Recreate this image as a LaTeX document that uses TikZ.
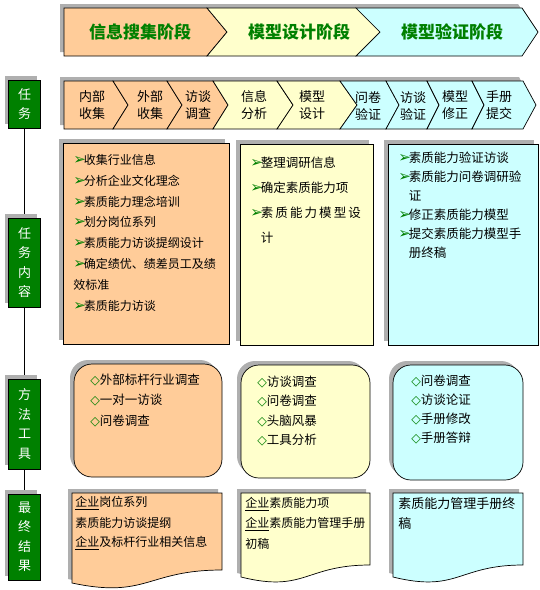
\documentclass[tikz,border=0pt]{standalone}
\usepackage{fontspec}
\setmainfont{Noto Sans CJK SC}
\newfontfamily\symfont{DejaVu Sans}
\usepackage{tikz}
\usetikzlibrary{shadows, backgrounds}

\definecolor{stageOrange}{RGB}{255,204,153}
\definecolor{stageYellow}{RGB}{255,255,204}
\definecolor{stageCyan}{RGB}{204,255,255}
\definecolor{tagGreen}{RGB}{0,128,0}
\definecolor{shadowGray}{RGB}{175,175,175}

\newcommand{\arr}{\makebox[10.5pt][l]{\color{tagGreen}\symfont\fontsize{15}{14}\selectfont ➢}}
\newcommand{\dia}{{\color{tagGreen}\symfont\bfseries ◇}}

\begin{document}
\begin{tikzpicture}[x=1pt, y=-1pt, line width=0.7pt,
  font=\fontsize{12}{14}\selectfont,
  shadowed/.style={general shadow={fill=shadowGray, shadow xshift=-4pt, shadow yshift=4pt}},
  tag/.style={draw, fill=tagGreen, text=white, shadowed, minimum width=32pt,
    align=center, inner sep=0pt, font=\fontsize{13}{19.5}\selectfont},
  panel/.style={draw, shadowed, inner sep=0pt},
  toolbox/.style={panel, rounded corners=18pt},
  stage/.style={font=\fontsize{17}{20}\selectfont\bfseries, text=tagGreen},
  stepbox/.style={draw, line join=miter},
  steptext/.style={align=center, font=\fontsize{13}{17}\selectfont},
  item/.style={anchor=west, inner sep=0pt},
]
\useasboundingbox (0,0) rectangle (540,590);

% stage band
\fill[shadowGray] (60,4) -- (518,4) -- (534,28) -- (518,52) -- (60,52) -- cycle;
\foreach \a/\b/\c/\d/\col in {64/64/207/227/stageOrange, 207/227/356/380/stageYellow,
                               356/380/522/538/stageCyan}
  \filldraw[fill=\col, stepbox] (\a,8) -- (\c,8) -- (\d,32) -- (\c,56) -- (\a,56) -- (\b,32) -- cycle;
\node[stage] (s1) at (140,32) {信息搜集阶段};
\node[stage] (s2) at (299,32) {模型设计阶段};
\node[stage] (s3) at (452,32) {模型验证阶段};

% step band
\fill[shadowGray] (60,77) -- (519,77) -- (532,101) -- (519,125) -- (60,125) -- cycle;
\foreach \a/\b/\c/\d/\col/\x/\t [count=\i] in {
    64/64/113/128/stageOrange/92/内部\\收集,
    113/128/167/182/stageOrange/150/外部\\收集,
    167/182/213/228/stageOrange/198/访谈\\调查,
    213/228/277/293/stageYellow/254/信息\\分析,
    277/293/340/357/stageYellow/312/模型\\设计,
    340/357/386/399/stageCyan/368/问卷\\验证,
    386/399/427/439/stageCyan/413/访谈\\验证,
    427/439/472/484/stageCyan/455/模型\\修正,
    472/484/523/536/stageCyan/499/手册\\提交}
{
  \filldraw[fill=\col, stepbox] (\a,81) -- (\c,81) -- (\d,105) -- (\c,129) -- (\a,129) -- (\b,105) -- cycle;
  \node[steptext] (t\i) at (\x,105.5) {\t};
}

% row labels
\node[tag, minimum height=48pt] (tag1) at (24.5,104) {任\\务};
\node[tag, minimum height=89pt] (tag2) at (24.5,262.5) {任\\务\\内\\容};
\node[tag, minimum height=90pt] (tag3) at (24.5,424) {方\\法\\工\\具};
\node[tag, minimum height=86pt] (tag4) at (24.5,537) {最\\终\\结\\果};
\begin{scope}[on background layer]
  \draw (tag1.south) -- (tag4.north);
\end{scope}

% task contents
\node[panel, fill=stageOrange, minimum width=166pt, minimum height=201pt] (task1) at (146,243.5) {};
\node[panel, fill=stageYellow, minimum width=133pt, minimum height=201pt] (task2) at (306.5,244.5) {};
\node[panel, fill=stageCyan, minimum width=150pt, minimum height=201pt] (task3) at (463,244.5) {};
\foreach \t [count=\i] in {\arr 收集行业信息, \arr 分析企业文化理念, \arr 素质能力理念培训,
    \arr 划分岗位系列, \arr 素质能力访谈提纲设计, \arr 确定绩优、绩差员工及绩, 效标准, \arr 素质能力访谈}
  \node[item] (c1-\i) at (73,{160+20.8*(\i-1)}) {\t};
\foreach \t [count=\i] in {\arr 整理调研信息, \arr 确定素质能力项,
    \arr 素\,质\,能\,力\,模\,型\,设, \phantom{\arr}计}
  \node[item, font=\fontsize{12.5}{14}\selectfont] (c2-\i) at (250,{163+25*(\i-1)}) {\t};
\foreach \t [count=\i] in {\arr 素质能力验证访谈, \arr 素质能力问卷调研验, \phantom{\arr}证,
    \arr 修正素质能力模型, \arr 提交素质能力模型手, \phantom{\arr}册终稿}
  \node[item, font=\fontsize{12.5}{14}\selectfont] (c3-\i) at (398,{158+19*(\i-1)}) {\t};

% methods and tools
\node[toolbox, fill=stageOrange, minimum width=148pt, minimum height=113pt] (tool1) at (148,420.5) {};
\node[toolbox, fill=stageYellow, minimum width=129pt, minimum height=113pt] (tool2) at (305.5,421.5) {};
\node[toolbox, fill=stageCyan, minimum width=130pt, minimum height=115pt] (tool3) at (458,422.5) {};
\foreach \t [count=\i] in {\dia 外部标杆行业调查, \dia 一对一访谈, \dia 问卷调查}
  \node[item, font=\fontsize{12.5}{14}\selectfont] (m1-\i) at (90,{380+20.5*(\i-1)}) {\t};
\foreach \t [count=\i] in {\dia 访谈调查, \dia 问卷调查, \dia 头脑风暴, \dia 工具分析}
  \node[item, font=\fontsize{12.5}{14}\selectfont] (m2-\i) at (257,{382+19.3*(\i-1)}) {\t};
\foreach \t [count=\i] in {\dia 问卷调查, \dia 访谈论证, \dia 手册修改, \dia 手册答辩}
  \node[item, font=\fontsize{12.5}{14}\selectfont] (m3-\i) at (411,{381+19*(\i-1)}) {\t};

% final results
\filldraw[fill=stageOrange, shadowed] (72,493) -- (222,493) -- (222,570)
  .. controls (147,570) and (147,599) .. (72,583) -- cycle;
\filldraw[fill=stageYellow, shadowed] (241,493) -- (370,493) -- (370,565)
  .. controls (305,565) and (305,593) .. (241,577) -- cycle;
\filldraw[fill=stageCyan, shadowed] (393,493) -- (523,493) -- (523,565)
  .. controls (458,565) and (458,593) .. (393,577) -- cycle;
\foreach \t [count=\i] in {\underline{企业}岗位系列, 素质能力访谈提纲, \underline{企业}及标杆行业相关信息}
  \node[item] (r1-\i) at (75,{503+20*(\i-1)}) {\t};
\foreach \t [count=\i] in {\underline{企业}素质能力项, \underline{企业}素质能力管理手册, 初稿}
  \node[item] (r2-\i) at (245,{504+20*(\i-1)}) {\t};
\foreach \t [count=\i] in {素质能力管理手册终, 稿}
  \node[item, font=\fontsize{13}{14}\selectfont] (r3-\i) at (398,{504+20*(\i-1)}) {\t};
\end{tikzpicture}
\end{document}
